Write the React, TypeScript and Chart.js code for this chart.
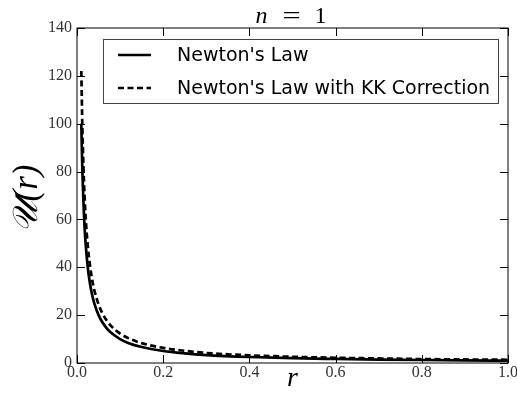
import React, { useEffect, useRef } from "react";
import { Chart, registerables } from "chart.js";

Chart.register(...registerables);

// radius values (x axis)
const rValues = [0.01, 0.0125, 0.015, 0.0175, 0.02, 0.025, 0.03, 0.035, 0.04, 0.05, 0.06, 0.07, 0.08, 0.1, 0.12, 0.15, 0.2, 0.25, 0.3, 0.4, 0.5, 0.6, 0.7, 0.8, 0.9, 1.0];
// Newton's law potential
const newtonLaw = [100, 80, 67, 57, 50, 40, 33.3, 28.6, 25, 20, 16.7, 14.3, 12.5, 10, 8.3, 6.7, 5, 4, 3.3, 2.5, 2, 1.7, 1.45, 1.25, 1.1, 1.0];
// Newton's law with KK correction
const kkCorrection = [122, 98, 82, 70, 61, 49, 41, 35, 30.6, 24.5, 20.4, 17.5, 15.3, 12.3, 10.3, 8.3, 6.3, 5.1, 4.2, 3.2, 2.6, 2.2, 1.9, 1.65, 1.48, 1.35];

const seriesLabels = ["Newton's Law", "Newton's Law with KK Correction"];
const xTickStep = 0.2;
const yTickStep = 20;
const xRange = [0, 1];
const yRange = [0, 140];
const titleParts = ["n", "=", "1"];
const xTitle = "r";
const yTitle = "\u{1D4B0}(r)\u2009";

const SERIF = "'Liberation Serif', 'DejaVu Serif', serif";
const SANS = "'DejaVu Sans', sans-serif";
const DASH = [6, 3.5];

const decorations = {
  id: "decorations",
  afterDatasetsDraw(chart: any) {
    const { ctx, chartArea: a, scales } = chart;
    ctx.save();
    ctx.strokeStyle = "#000";
    ctx.lineWidth = 1;
    ctx.setLineDash([]);
    ctx.strokeRect(a.left, a.top, a.right - a.left, a.bottom - a.top);
    const tl = 8;
    ctx.beginPath();
    scales.x.ticks.forEach((t: any) => {
      const px = Math.round(scales.x.getPixelForValue(t.value)) + 0.5;
      ctx.moveTo(px, a.bottom);
      ctx.lineTo(px, a.bottom - tl);
      ctx.moveTo(px, a.top);
      ctx.lineTo(px, a.top + tl);
    });
    scales.y.ticks.forEach((t: any) => {
      const py = Math.round(scales.y.getPixelForValue(t.value)) + 0.5;
      ctx.moveTo(a.left, py);
      ctx.lineTo(a.left + tl, py);
      ctx.moveTo(a.right, py);
      ctx.lineTo(a.right - tl, py);
    });
    ctx.stroke();

    // legend
    const lx = a.left + 26;
    const ly = a.top + 11;
    const lw = a.right - 10 - lx;
    const lh = 64;
    ctx.fillStyle = "#fff";
    ctx.fillRect(lx, ly, lw, lh);
    ctx.strokeStyle = "#444";
    ctx.lineWidth = 1;
    ctx.strokeRect(lx + 0.5, ly + 0.5, lw, lh);
    chart.data.datasets.forEach((ds: any, i: number) => {
      const y = ly + 16 + i * 33;
      ctx.strokeStyle = ds.borderColor;
      ctx.lineWidth = ds.borderWidth;
      ctx.setLineDash(ds.borderDash || []);
      ctx.beginPath();
      ctx.moveTo(lx + 15, y);
      ctx.lineTo(lx + 48, y);
      ctx.stroke();
      ctx.setLineDash([]);
      ctx.fillStyle = "#000";
      ctx.font = `19px ${SANS}`;
      ctx.textBaseline = "middle";
      ctx.textAlign = "left";
      ctx.fillText(ds.label, lx + 74, y + 1);
    });

    // title (math style: italic n, upright = and 1)
    const cx = (a.left + a.right) / 2;
    ctx.fillStyle = "#000";
    ctx.textBaseline = "alphabetic";
    ctx.textAlign = "left";
    ctx.font = `italic 24px ${SERIF}`;
    ctx.fillText(titleParts[0], cx - 37, 23);
    ctx.font = `24px ${SERIF}`;
    ctx.save();
    ctx.translate(cx - 10, 23);
    ctx.scale(1.35, 1);
    ctx.fillText(titleParts[1], 0, 0);
    ctx.restore();
    ctx.fillText(titleParts[2], cx + 22, 23);
    ctx.restore();
  },
};

export default function App() {
  const ref = useRef<HTMLCanvasElement | null>(null);
  useEffect(() => {
    if (!ref.current) return;
    const chart = new Chart(ref.current, {
      type: "line",
      data: {
        datasets: [
          {
            label: seriesLabels[0],
            data: rValues.map((r, i) => ({ x: r, y: newtonLaw[i] })),
            borderColor: "#000",
            borderWidth: 2.7,
            pointRadius: 0,
            fill: false,
            cubicInterpolationMode: "monotone",
          },
          {
            label: seriesLabels[1],
            data: rValues.map((r, i) => ({ x: r, y: kkCorrection[i] })),
            borderColor: "#000",
            borderWidth: 2.7,
            borderDash: DASH,
            pointRadius: 0,
            fill: false,
            cubicInterpolationMode: "monotone",
          },
        ],
      },
      options: {
        animation: false,
        responsive: false,
        devicePixelRatio: 1,
        layout: { padding: { left: 0, top: 28, right: 9, bottom: 0 } },
        plugins: { legend: { display: false }, tooltip: { enabled: false }, title: { display: false } },
        scales: {
          x: {
            type: "linear",
            min: xRange[0],
            max: xRange[1],
            grid: { display: false, drawTicks: false },
            border: { display: false },
            ticks: {
              stepSize: xTickStep,
              padding: 0,
              color: "#333",
              font: { family: SERIF, size: 16 },
              maxRotation: 0,
              autoSkip: false,
              callback: (v: any) => Number(v).toFixed(1),
            },
            title: {
              display: true,
              text: xTitle,
              color: "#000",
              font: { family: SERIF, size: 28, style: "italic", lineHeight: 1 },
              padding: { top: 0, bottom: 9 },
            },
            afterFit: (s: any) => {
              s.height = 39;
              s.paddingLeft = 0;
              s.paddingRight = 0;
            },
          },
          y: {
            type: "linear",
            min: yRange[0],
            max: yRange[1],
            grid: { display: false, drawTicks: false },
            border: { display: false },
            ticks: {
              stepSize: yTickStep,
              padding: 5,
              color: "#333",
              font: { family: SERIF, size: 16 },
              autoSkip: false,
            },
            title: {
              display: true,
              text: yTitle,
              color: "#000",
              font: { family: SERIF, size: 35, style: "italic", lineHeight: 1 },
              padding: { top: 10, bottom: 0 },
            },
            afterFit: (s: any) => {
              s.width = 77;
              s.paddingTop = 0;
              s.paddingBottom = 0;
            },
          },
        },
      },
      plugins: [decorations],
    } as any);
    return () => chart.destroy();
  }, []);
  return (
    <div style={{ position: "absolute", left: 0, top: 0, width: 517, height: 402 }}>
      <canvas ref={ref} width={517} height={402} style={{ width: 517, height: 402, display: "block" }} />
    </div>
  );
}
